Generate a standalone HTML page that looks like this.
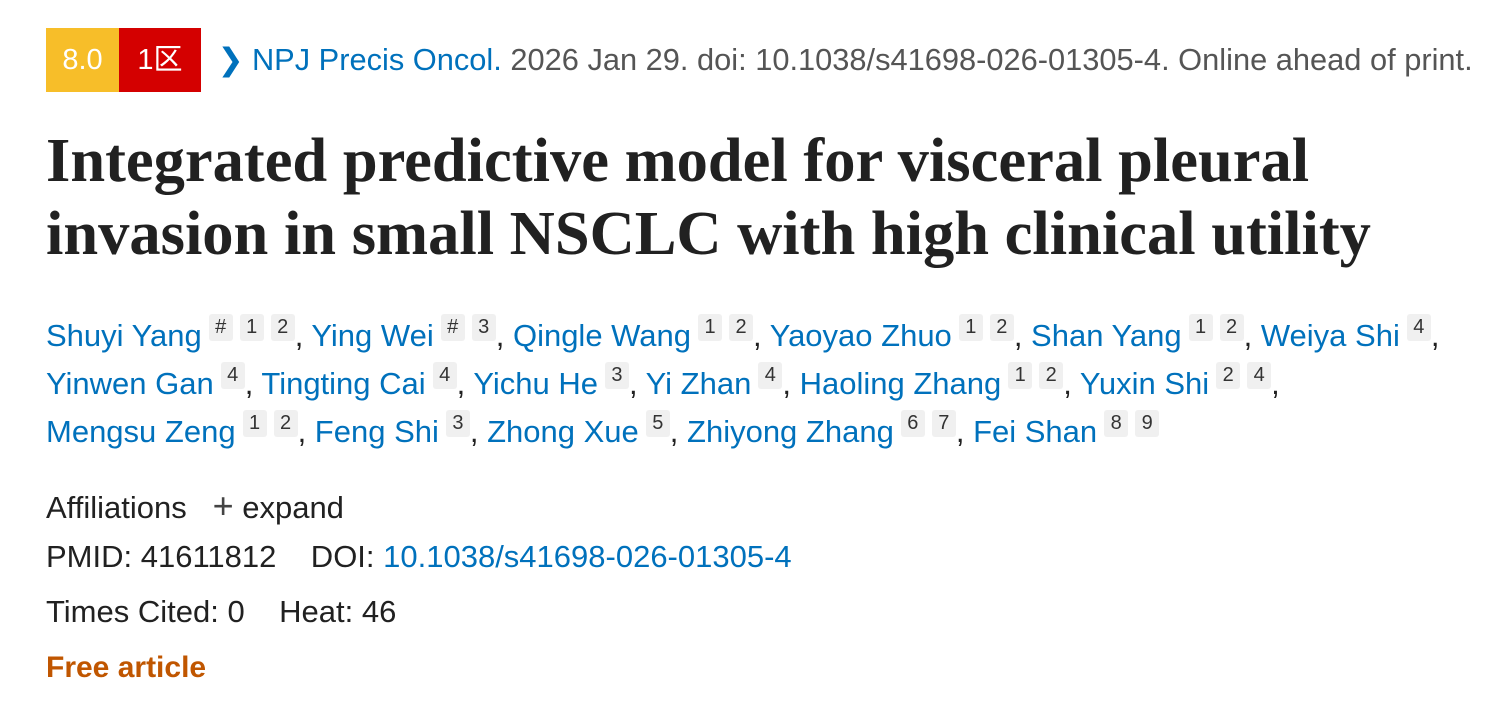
<!DOCTYPE html>
<html><head><meta charset="utf-8"><style>
body{margin:0;background:#fff;width:1502px;height:709px;overflow:hidden;font-family:"Liberation Sans","Noto Sans CJK SC",sans-serif;color:#212121}
.l{position:absolute;left:46px;white-space:nowrap}
a{color:#0071bc;text-decoration:none}
.b{display:inline-block;vertical-align:top;height:64px;line-height:64px;color:#fff;font-size:29px;text-align:center}
.s{display:inline-block;background:#f0f0f0;color:#333;font-size:20px;line-height:27px;height:27px;width:24px;text-align:center;border-radius:3px;vertical-align:13px;margin-left:7px}
.t{font-family:"Liberation Serif",serif;font-weight:bold;font-size:62.5px;line-height:73px;color:#212121}
.au{font-size:31px;line-height:48px}
.m{font-size:31px}
</style></head><body>
<div class="l" style="top:28px;font-size:30.8px;line-height:64px">
<span class="b" style="background:#f7be29;width:73px">8.0</span><span class="b" style="background:#d40000;width:82px">1区</span>
<span style="color:#0071bc;margin-left:8px">&#x276F;</span> <a>NPJ Precis Oncol.</a> <span style="color:#555">2026 Jan 29. doi: 10.1038/s41698-026-01305-4. Online ahead of print.</span>
</div>
<div class="l t" style="top:124px">Integrated predictive model for visceral pleural<br>invasion in small NSCLC with high clinical utility</div>
<div class="l au" style="top:312px">
<a>Shuyi Yang</a><span class="s">#</span><span class="s">1</span><span class="s">2</span>, <a>Ying Wei</a><span class="s">#</span><span class="s">3</span>, <a>Qingle Wang</a><span class="s">1</span><span class="s">2</span>, <a>Yaoyao Zhuo</a><span class="s">1</span><span class="s">2</span>, <a>Shan Yang</a><span class="s">1</span><span class="s">2</span>, <a>Weiya Shi</a><span class="s">4</span>,<br>
<a>Yinwen Gan</a><span class="s">4</span>, <a>Tingting Cai</a><span class="s">4</span>, <a>Yichu He</a><span class="s">3</span>, <a>Yi Zhan</a><span class="s">4</span>, <a>Haoling Zhang</a><span class="s">1</span><span class="s">2</span>, <a>Yuxin Shi</a><span class="s">2</span><span class="s">4</span>,<br>
<a>Mengsu Zeng</a><span class="s">1</span><span class="s">2</span>, <a>Feng Shi</a><span class="s">3</span>, <a>Zhong Xue</a><span class="s">5</span>, <a>Zhiyong Zhang</a><span class="s">6</span><span class="s">7</span>, <a>Fei Shan</a><span class="s">8</span><span class="s">9</span>
</div>
<div class="l m" style="top:485px">Affiliations &nbsp;&nbsp;<span style="font-size:36px;color:#444">+</span> expand</div>
<div class="l m" style="top:539px">PMID: 41611812 &nbsp;&nbsp; DOI: <a>10.1038/s41698-026-01305-4</a></div>
<div class="l m" style="top:594px">Times Cited: 0 &nbsp;&nbsp; Heat: 46</div>
<div class="l m" style="top:651px;color:#c05600;font-weight:bold;font-size:30px">Free article</div>
</body></html>
